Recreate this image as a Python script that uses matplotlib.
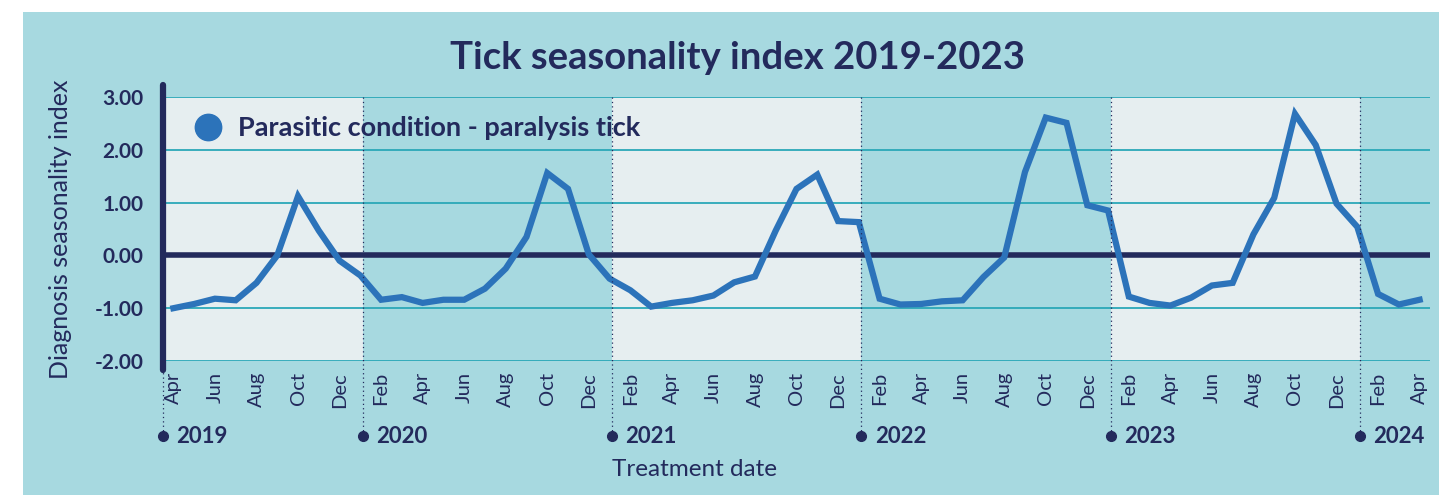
import numpy as np
import matplotlib
matplotlib.use("Agg")
import matplotlib.pyplot as plt
from matplotlib.lines import Line2D
from matplotlib.patches import Rectangle

# monthly seasonality index, Apr 2019 .. Apr 2024
months = ['Apr', 'May', 'Jun', 'Jul', 'Aug', 'Sep', 'Oct', 'Nov', 'Dec',
          'Jan', 'Feb', 'Mar', 'Apr', 'May', 'Jun', 'Jul', 'Aug', 'Sep', 'Oct', 'Nov', 'Dec',
          'Jan', 'Feb', 'Mar', 'Apr', 'May', 'Jun', 'Jul', 'Aug', 'Sep', 'Oct', 'Nov', 'Dec',
          'Jan', 'Feb', 'Mar', 'Apr', 'May', 'Jun', 'Jul', 'Aug', 'Sep', 'Oct', 'Nov', 'Dec',
          'Jan', 'Feb', 'Mar', 'Apr', 'May', 'Jun', 'Jul', 'Aug', 'Sep', 'Oct', 'Nov', 'Dec',
          'Jan', 'Feb', 'Mar', 'Apr']
index_values = [-1.00, -0.92, -0.82, -0.85, -0.52, 0.00, 1.12, 0.47, -0.10,
                -0.38, -0.84, -0.79, -0.90, -0.84, -0.84, -0.63, -0.25, 0.35, 1.56, 1.26, 0.02,
                -0.44, -0.66, -0.97, -0.90, -0.85, -0.76, -0.51, -0.40, 0.47, 1.26, 1.53, 0.65,
                0.63, -0.82, -0.93, -0.92, -0.87, -0.85, -0.41, -0.04, 1.58, 2.61, 2.51, 0.95,
                0.85, -0.78, -0.90, -0.95, -0.80, -0.57, -0.52, 0.40, 1.09, 2.68, 2.09, 0.98,
                0.54, -0.73, -0.93, -0.84]
years = ['2019', '2020', '2021', '2022', '2023', '2024']
series_name = 'Parasitic condition - paralysis tick'

BG = '#a7d9e0'
LIGHT = '#e6eef0'
GRID = '#2aa8b8'
NAVY = '#232a5c'
BLUE = '#2c73ba'

plt.rcParams['font.family'] = ['Lato', 'DejaVu Sans']

fig = plt.figure(figsize=(14.39, 4.95), dpi=100)
fig.patch.set_facecolor('white')
fig.patches.append(Rectangle((23 / 1439, 0), 1 - 23 / 1439, 1 - 12 / 495,
                             transform=fig.transFigure, facecolor=BG,
                             edgecolor='none', zorder=-5))

ax = fig.add_axes([163 / 1439, 134 / 495, 1267 / 1439, 264 / 495])
ax.set_facecolor(BG)
x = np.arange(len(index_values))

# year boundaries (January positions)
jan_idx = [-0.5] + [i + 0.12 for i, m in enumerate(months) if m == 'Jan']
bounds = jan_idx + [len(months) - 0.5]
for k in range(len(years)):
    if k % 2 == 0:
        ax.axvspan(bounds[k], bounds[k + 1], color=LIGHT, lw=0, zorder=0)

for v in range(-2, 4):
    ax.axhline(v, color=GRID, lw=1.3, zorder=1)
ax.axhline(0, color=NAVY, lw=4, zorder=2)

ax.plot(x, index_values, color=BLUE, lw=4.5, solid_joinstyle='miter', zorder=3)

ax.set_xlim(-0.5, len(months) - 0.5)
ax.set_ylim(-2, 3)
ax.set_yticks(range(-2, 4))
ax.set_yticklabels([f'{v:.2f}' for v in range(-2, 4)], fontsize=15,
                   fontweight='bold', color=NAVY)
ax.set_xticks(x[::2])
ax.set_xticklabels(months[::2], rotation=90, fontsize=14.5,
                   fontweight='normal', color=NAVY, va='top')
ax.tick_params(axis='y', length=0, pad=14)
ax.tick_params(axis='x', length=0, pad=8)
for s in ax.spines.values():
    s.set_visible(False)

# left axis bar
ax.axvline(-0.5, ymin=-0.034, ymax=1.045, color=NAVY, lw=4.5,
           solid_capstyle='round', clip_on=False, zorder=4)

# dotted dividers and year markers
trans = ax.get_xaxis_transform()
for k, yr in enumerate(years):
    xb = jan_idx[k]
    ax.plot([xb, xb], [1.0, -0.27], transform=trans, color=NAVY, lw=0.9,
            ls=(0, (1, 2.5)), clip_on=False, zorder=3)
    ax.plot([xb], [-0.285], transform=trans, marker='o', ms=7, color=NAVY,
            clip_on=False, zorder=4)
    ax.text(xb + 0.65, -0.285, yr, transform=trans, fontsize=16,
            fontweight='bold', color=NAVY, va='center', ha='left')

leg = ax.legend(handles=[Line2D([], [], marker='o', ls='', color=BLUE, ms=19)],
                labels=[series_name], loc='upper left', frameon=False,
                bbox_to_anchor=(-0.005, 1.02), handletextpad=0.1,
                prop={'size': 19.5, 'weight': 'bold'})
for t in leg.get_texts():
    t.set_color(NAVY)

ax.set_ylabel('Diagnosis seasonality index', fontsize=18, fontweight='normal',
              color=NAVY)
ax.yaxis.set_label_coords(-0.072, 0.5)

fig.text(695 / 1439, 1 - 470 / 495, 'Treatment date', fontsize=17.5,
         fontweight='normal', color=NAVY, ha='center', va='center')
fig.text(737 / 1439, 1 - 58 / 495, 'Tick seasonality index 2019-2023',
         fontsize=27.5, fontweight='bold', color=NAVY, ha='center', va='center')

fig.savefig('out.png', dpi=100)
